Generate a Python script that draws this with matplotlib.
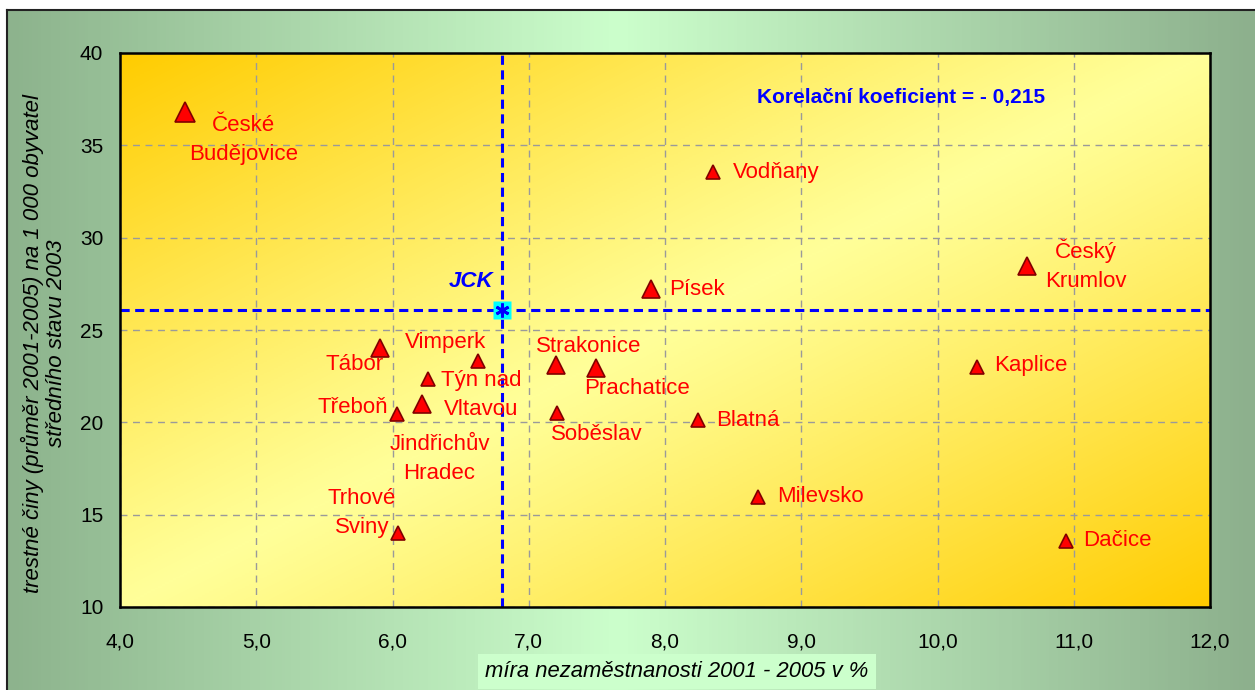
import matplotlib
matplotlib.use("Agg")
import matplotlib.pyplot as plt
import numpy as np
from matplotlib.colors import LinearSegmentedColormap

plt.rcParams['font.family'] = ['Liberation Sans', 'DejaVu Sans']

# data: unemployment rate (%) vs. crimes per 1000 inhabitants
towns = ['České\nBudějovice', 'Vodňany', 'Český\nKrumlov', 'Písek', 'Tábor', 'Vimperk',
         'Strakonice', 'Prachatice', 'Kaplice', 'Týn nad\nVltavou', 'Jindřichův\nHradec',
         'Třeboň', 'Soběslav', 'Blatná', 'Milevsko', 'Dačice', 'Trhové\nSviny']
unemployment = [4.48, 8.35, 10.66, 7.90, 5.91, 6.63, 7.20, 7.49, 10.29, 6.26, 6.22,
                6.03, 7.21, 8.24, 8.68, 10.94, 6.04]
crimes = [36.8, 33.55, 28.45, 27.2, 24.05, 23.3, 23.1, 22.95, 23.0, 22.35, 21.0,
          20.45, 20.5, 20.1, 15.95, 13.6, 14.0]
size_class = [3, 1, 2, 2, 2, 1, 2, 2, 1, 1, 2, 1, 1, 1, 1, 1, 1]

jck_x, jck_y = 6.8, 26.1
corr = '- 0,215'

# label placement: (dx px, dy px downward, ha)
label_pos = [(58, 28, 'center'), (20, 0, 'left'), (58, -1, 'center'), (18, 0, 'left'),
             (-26, 17, 'center'), (-33, -19, 'center'), (33, -19, 'center'), (41, 21, 'center'),
             (17, -1, 'left'), (13, 16, 'left'), (17, 55, 'center'), (-9, -7, 'right'),
             (39, 21, 'center'), (18, 0, 'left'), (19, -1, 'left'), (18, 0, 'left'),
             (-36, -20, 'center')]
marker_sizes = {1: 10, 2: 12.5, 3: 14.5}

W, H = 1255, 690
fig = plt.figure(figsize=(W / 100, H / 100), dpi=100, facecolor='white')

# green panel background
bg = fig.add_axes([7 / W, 0, 1 - 7 / W, 680 / H])
green = LinearSegmentedColormap.from_list('g', ['#8db38d', '#ccffcc', '#8db08d'])
xx = np.linspace(0, 1, 400)
xx = np.where(xx < 0.49, xx / 0.49 * 0.5, 0.5 + (xx - 0.49) / 0.51 * 0.5)
bg.imshow(xx[None, :], cmap=green, aspect='auto', extent=[0, 1, 0, 1])
bg.set_xticks([])
bg.set_yticks([])
for s in ['left', 'top']:
    bg.spines[s].set_linewidth(1.5)
    bg.spines[s].set_color('#222222')
for s in ['right', 'bottom']:
    bg.spines[s].set_visible(False)

ax = fig.add_axes([120 / W, (H - 607) / H, (1210 - 120) / W, (607 - 53) / H])
ax.set_xlim(4, 12)
ax.set_ylim(10, 40)

# yellow-orange diagonal gradient
u, v = np.meshgrid(np.linspace(0, 1, 300), np.linspace(1, 0, 300))
t = np.abs(u - v) ** 1.1
yellow = LinearSegmentedColormap.from_list('y', ['#ffff99', '#ffcc00'])
ax.imshow(t, cmap=yellow, extent=[4, 12, 10, 40], aspect='auto', zorder=0)

ax.set_xticks(np.arange(4, 12.1, 1))
ax.set_xticklabels([f'{v:.1f}'.replace('.', ',') for v in np.arange(4, 12.1, 1)])
ax.set_yticks(np.arange(10, 41, 5))
ax.tick_params(length=0, labelsize=15)
ax.tick_params(axis='x', pad=18)
ax.tick_params(axis='y', pad=12)
ax.grid(True, color='#9a9a9a', linestyle=(0, (5, 4)), linewidth=1.0, zorder=1)
for s in ax.spines.values():
    s.set_linewidth(1.8)
    s.set_color('black')

# reference lines through the region value
ax.axvline(jck_x, color='#0000ff', lw=2.2, dashes=(3, 1.8), zorder=2)
ax.axhline(jck_y, color='#0000ff', lw=2.2, dashes=(3, 1.8), zorder=2)
ax.plot(jck_x, jck_y, 's', color='#00ffff', ms=13, mec='none', zorder=4)
ax.plot(jck_x, jck_y, marker=(6, 2, 0), color='#0000ff', ms=10, mew=2, zorder=5)
ax.annotate('JCK', (jck_x, jck_y), xytext=(-30, 28), textcoords='offset pixels',
            ha='center', va='center', color='#0000ff', fontsize=16,
            fontweight='bold', fontstyle='italic')

for name, x, y, sc, (dx, dy, ha) in zip(towns, unemployment, crimes, size_class, label_pos):
    ax.plot(x, y, '^', color='#ff0000', mec='#800000', mew=1.2,
            ms=marker_sizes[sc], zorder=6)
    ax.annotate(name, (x, y), xytext=(dx, -dy), textcoords='offset pixels',
                ha=ha, va='center', color='#ff0000', fontsize=16,
                linespacing=1.5, multialignment='center', zorder=7)

ax.text(0.7165, 0.919, 'Korelační koeficient = ' + corr, transform=ax.transAxes,
        ha='center', va='center', color='#0000ff', fontsize=15, fontweight='bold')

ax.set_xlabel('míra nezaměstnanosti 2001 - 2005 v %', fontsize=15.8, fontstyle='italic',
              va='center', bbox=dict(facecolor='#ccffcc', edgecolor='none', pad=5))
ax.xaxis.set_label_coords(0.511, -0.117)
ax.set_ylabel('trestné činy (průměr 2001-2005) na 1 000 obyvatel\nstředního stavu 2003',
              fontsize=16, fontstyle='italic', va='center', linespacing=1.15)
ax.yaxis.set_label_coords(-0.0697, 0.4765)

fig.savefig('out.png', dpi=100, facecolor='white')
